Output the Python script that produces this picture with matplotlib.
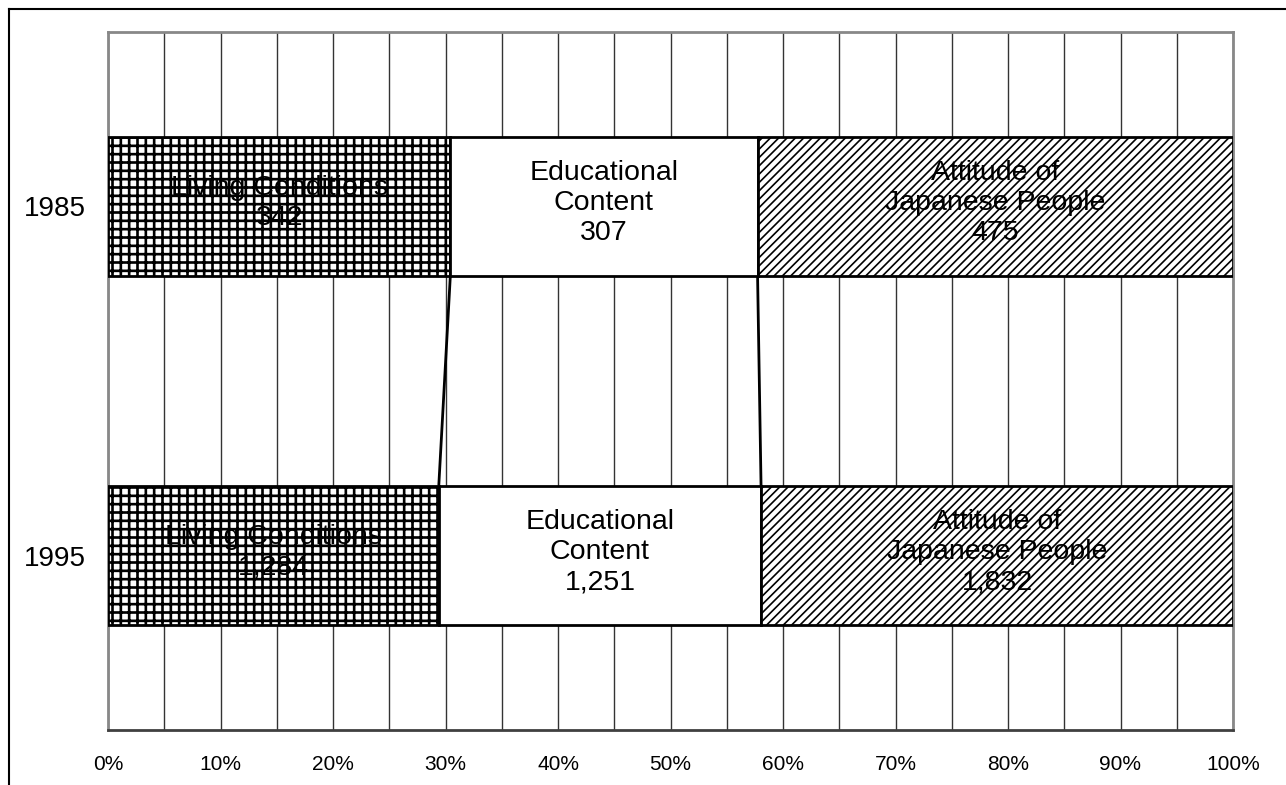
import matplotlib
matplotlib.use("Agg")
import matplotlib.pyplot as plt
from matplotlib.lines import Line2D
import numpy as np

plt.rcParams['font.family'] = ['Liberation Sans', 'DejaVu Sans']

years = ["1985", "1995"]
categories = ["Living Conditions", "Educational\nContent", "Attitude of\nJapanese People"]
living = [342, 1284]
educational = [307, 1251]
attitude = [475, 1832]
x_ticks = [0, 10, 20, 30, 40, 50, 60, 70, 80, 90, 100]
x_tick_labels = ["0%", "10%", "20%", "30%", "40%", "50%", "60%", "70%", "80%", "90%", "100%"]

series = [living, educational, attitude]
hatches = ['++', None, '////']
hatch_lw = [1.9, None, 1.2]

W, H = 1286, 785
fig = plt.figure(figsize=(W / 100, H / 100), dpi=100)
ax = fig.add_axes([108 / W, 1 - 730 / H, (1233 - 108) / W, (730 - 32) / H])

vals = np.array(series, dtype=float)  # shape (3, 2)
totals = vals.sum(axis=0)
shares = vals / totals * 100
lefts = np.vstack([np.zeros(len(years)), np.cumsum(shares, axis=0)[:-1]])

ypos = np.arange(len(years))
bar_h = 0.4

for i, cat in enumerate(categories):
    kw = dict(height=bar_h, left=lefts[i], color='white', edgecolor='black',
              linewidth=2.0, zorder=3)
    if hatches[i]:
        with plt.rc_context({'hatch.linewidth': hatch_lw[i], 'hatch.color': 'black'}):
            bars = ax.barh(ypos, shares[i], hatch=hatches[i], **kw)
    else:
        bars = ax.barh(ypos, shares[i], **kw)
    for j in range(len(years)):
        label = f"{cat}\n{int(vals[i, j]):,}"
        ax.text(lefts[i, j] + shares[i, j] / 2, ypos[j] - 0.01, label, ha='center', va='center',
                fontsize=20.5, color='black', zorder=5, linespacing=1.2)

# series lines connecting boundaries
cum = np.cumsum(shares, axis=0)[:-1]
for k in range(cum.shape[0]):
    for j in range(len(years) - 1):
        ax.plot([cum[k, j], cum[k, j + 1]], [ypos[j] + bar_h / 2, ypos[j + 1] - bar_h / 2],
                color='black', linewidth=2.0, zorder=4, solid_capstyle='butt')

ax.set_xlim(0, 100)
ax.set_ylim(len(years) - 0.5, -0.5)
ax.set_axisbelow(True)
ax.set_xticks(x_ticks)
ax.set_xticks(np.arange(5, 100, 10), minor=True)
ax.xaxis.grid(True, which='both', color='#333333', linewidth=1.0)
ax.set_xticklabels(x_tick_labels, fontsize=15)
ax.set_yticks(ypos)
ax.set_yticklabels(years, fontsize=20)
ax.tick_params(axis='x', which='both', length=0, pad=18)
ax.tick_params(axis='y', length=0, pad=16)

for s in ['left', 'top', 'right']:
    ax.spines[s].set_color('#888888')
    ax.spines[s].set_linewidth(2.0)
ax.spines['bottom'].set_color('#404040')
ax.spines['bottom'].set_linewidth(2.0)

# outer frame (partially visible)
fig.add_artist(Line2D([8.5 / W, 8.5 / W], [0, 1 - 9 / H], transform=fig.transFigure,
                      color='black', linewidth=1.5))
fig.add_artist(Line2D([8.5 / W, 1], [1 - 9 / H, 1 - 9 / H], transform=fig.transFigure,
                      color='black', linewidth=1.5))

fig.savefig("out.png", dpi=100)
